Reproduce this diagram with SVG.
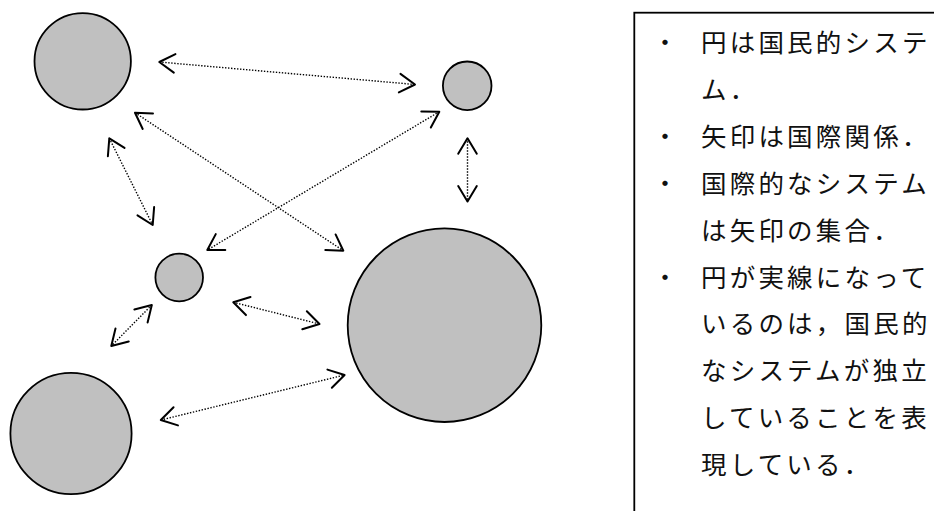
<svg xmlns="http://www.w3.org/2000/svg" width="934" height="511" viewBox="0 0 934 511">
<style>
  .sys { fill: #c0c0c0; stroke: #000; stroke-width: 1.8; }
  .rel { fill: none; stroke: #000; stroke-width: 1.4; stroke-dasharray: 1.4 1.6; marker-start: url(#head); marker-end: url(#head); }
  .note { font-family: "Noto Sans CJK JP", "Noto Sans CJK SC", sans-serif; font-size: 25.5px; fill: #111; letter-spacing: 3.2px; }
  .bullet { font-family: "Noto Sans CJK JP", sans-serif; font-size: 25px; fill: #111; text-anchor: middle; }
</style>
<defs>
  <marker id="head" markerUnits="userSpaceOnUse" markerWidth="40" markerHeight="40" refX="0" refY="0" viewBox="-20 -20 40 40" orient="auto-start-reverse" overflow="visible">
    <path d="M-15.4,-9.3 L0,0 L-15.4,9.3" fill="none" stroke="#000" stroke-width="2" stroke-linejoin="round" stroke-linecap="round"/>
  </marker>
</defs>
<rect width="934" height="511" fill="#fff"/>

<g id="connectors">
  <line class="rel" x1="159.3" y1="62" x2="415" y2="84.5"/>
  <line class="rel" x1="135" y1="112.7" x2="343.3" y2="250.7"/>
  <line class="rel" x1="439.3" y1="111.7" x2="207.3" y2="250"/>
  <line class="rel" x1="109.3" y1="138.3" x2="152.7" y2="225"/>
  <line class="rel" x1="467.5" y1="138.3" x2="467.5" y2="201.5"/>
  <line class="rel" x1="151.8" y1="305" x2="111.3" y2="346"/>
  <line class="rel" x1="233.3" y1="302.3" x2="319.5" y2="324"/>
  <line class="rel" x1="160.8" y1="420" x2="344.6" y2="375"/>
</g>

<g id="node-topleft"><circle class="sys" cx="82.7" cy="61.3" r="48.2"/></g>
<g id="node-topright"><circle class="sys" cx="467.2" cy="85.8" r="24.3"/></g>
<g id="node-middle"><circle class="sys" cx="179.2" cy="277.5" r="23.8"/></g>
<g id="node-bottomleft"><circle class="sys" cx="71" cy="433.5" r="60.6"/></g>
<g id="node-big"><circle class="sys" cx="444.5" cy="325.2" r="96.8"/></g>

<g id="legend">
  <rect x="634.3" y="12.7" width="320" height="520" fill="none" stroke="#000" stroke-width="1.8"/>
  <text class="bullet" x="665" y="52">・</text>
  <text class="note" x="701" y="52">円は国民的システ</text>
  <text class="note" x="701" y="98.9">ム．</text>
  <text class="bullet" x="665" y="145.8">・</text>
  <text class="note" x="701" y="145.8">矢印は国際関係．</text>
  <text class="bullet" x="665" y="192.7">・</text>
  <text class="note" x="701" y="192.7">国際的なシステム</text>
  <text class="note" x="701" y="239.6">は矢印の集合．</text>
  <text class="bullet" x="665" y="286.5">・</text>
  <text class="note" x="701" y="286.5">円が実線になって</text>
  <text class="note" x="701" y="333.4">いるのは，国民的</text>
  <text class="note" x="701" y="380.3">なシステムが独立</text>
  <text class="note" x="701" y="427.2">していることを表</text>
  <text class="note" x="701" y="474.1">現している．</text>
</g>
</svg>
